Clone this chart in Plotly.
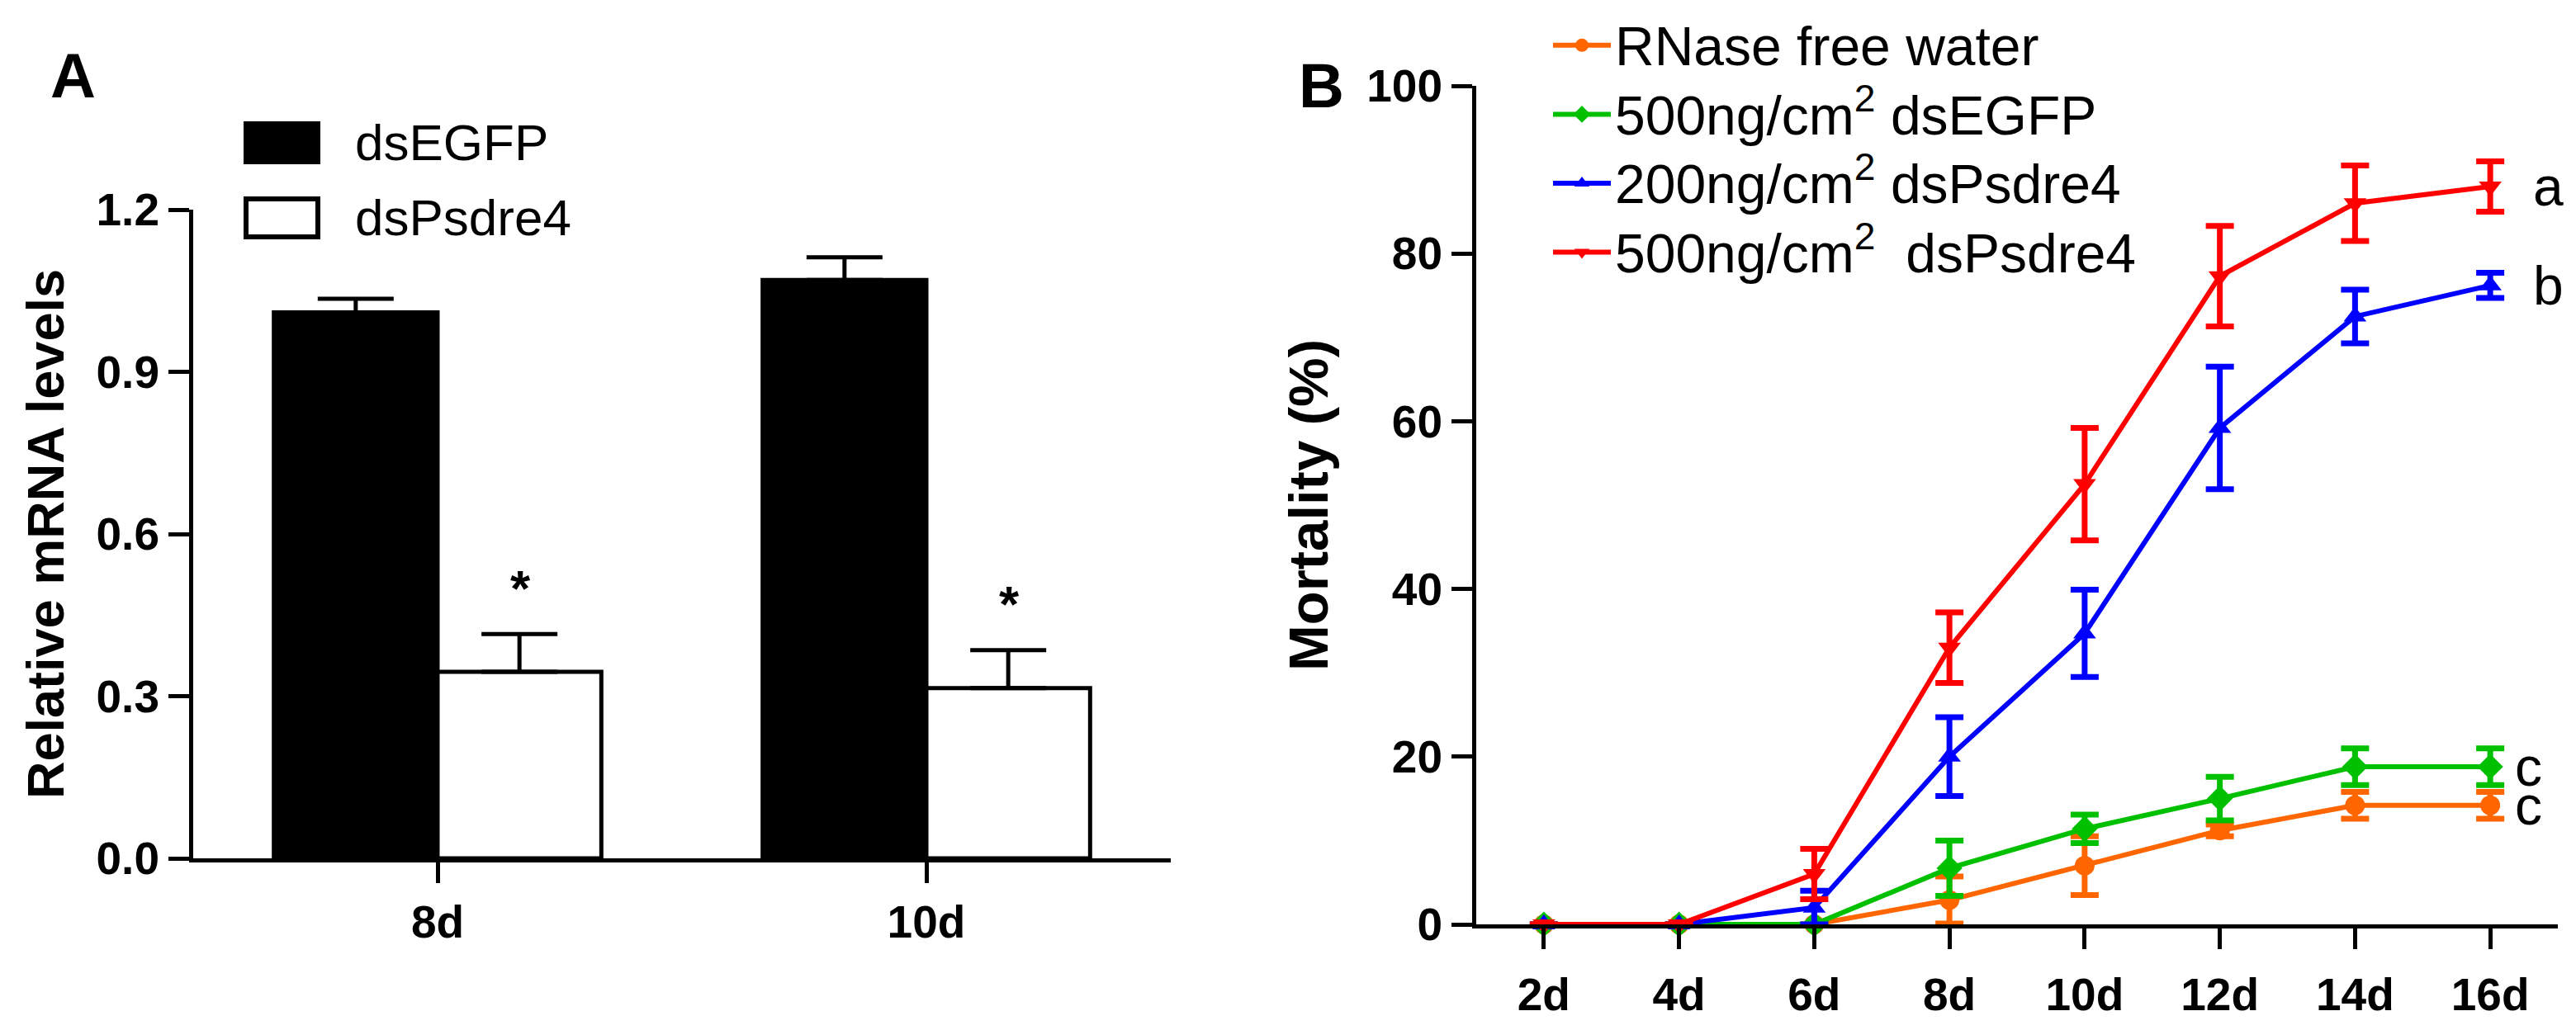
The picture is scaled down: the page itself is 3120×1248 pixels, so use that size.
import plotly.graph_objects as go

# panel A: relative mRNA levels (qPCR)
days_a = ["8d", "10d"]
egfp_mrna = [1.01, 1.07]
egfp_mrna_err = [0.025, 0.042]
psdre4_mrna = [0.345, 0.315]
psdre4_mrna_err = [0.07, 0.07]
mrna_ticks = [0.0, 0.3, 0.6, 0.9, 1.2]
signif_a = ["*", "*"]

# panel B: mortality over time
days_b = ["2d", "4d", "6d", "8d", "10d", "12d", "14d", "16d"]
water = [0, 0, 0, 2.9, 7.0, 11.2, 14.2, 14.2]
water_err = [0, 0, 0, 2.8, 3.5, 0.7, 1.6, 1.6]
egfp500 = [0, 0, 0, 6.7, 11.4, 15.0, 18.8, 18.8]
egfp500_err = [0, 0, 0, 3.3, 1.7, 2.6, 2.2, 2.2]
psdre200 = [0, 0, 2.0, 20.0, 34.7, 59.2, 72.5, 76.2]
psdre200_err = [0, 0, 2.0, 4.7, 5.2, 7.3, 3.2, 1.5]
psdre500 = [0, 0, 6.0, 33.0, 52.5, 77.3, 86.0, 88.0]
psdre500_err = [0, 0, 3.0, 4.2, 6.7, 6.0, 4.5, 3.0]
mortality_ticks = [0, 20, 40, 60, 80, 100]
letters_b = ["c", "c", "b", "a"]

W, H = 3120, 1248
FONT = "Liberation Sans"


def px(x):
    return x / W


def py(y):
    return 1 - y / H


def big(label):
    # legend rows are spaced from the legend font size; draw the text a bit larger
    return f'<span style="font-size:66px">{label}</span>'


fig = go.Figure()

# ---- panel A bars
fig.add_bar(
    x=days_a, y=egfp_mrna, name="dsEGFP", xaxis="x", yaxis="y",
    marker=dict(color="black", line=dict(color="black", width=5)),
    error_y=dict(type="data", array=egfp_mrna_err, arrayminus=[0] * len(egfp_mrna_err),
                 symmetric=False, color="black", thickness=5, width=46),
    showlegend=False,
)
fig.add_bar(
    x=days_a, y=psdre4_mrna, name="dsPsdre4", xaxis="x", yaxis="y",
    marker=dict(color="white", line=dict(color="black", width=5)),
    error_y=dict(type="data", array=psdre4_mrna_err, arrayminus=[0] * len(psdre4_mrna_err),
                 symmetric=False, color="black", thickness=5, width=46),
    showlegend=False,
)

# ---- panel B lines
series_b = [
    ("RNase free water", water, water_err, "#FF6600", "circle"),
    ("500ng/cm<sup>2</sup> dsEGFP", egfp500, egfp500_err, "#00C000", "diamond"),
    ("200ng/cm<sup>2</sup> dsPsdre4", psdre200, psdre200_err, "#0000FF", "triangle-up"),
    ("500ng/cm<sup>2</sup>  dsPsdre4", psdre500, psdre500_err, "#FF0000", "triangle-down"),
]
for name, vals, errs, color, symbol in series_b:
    fig.add_scatter(
        x=days_b, y=vals, name=big(name), xaxis="x2", yaxis="y2",
        mode="lines+markers", cliponaxis=False,
        line=dict(color=color, width=6),
        marker=dict(color=color, size=24, symbol=symbol),
        error_y=dict(type="data", array=errs, color=color, thickness=7, width=17),
    )

# ---- axes
tick_font = dict(family=FONT, size=55, color="black", weight="bold")
title_font = dict(family=FONT, size=63, color="black", weight="bold")
axis_common = dict(showline=True, linecolor="black", showgrid=False, zeroline=False,
                   ticks="outside", tickcolor="black", tickwidth=5, ticklen=25,
                   tickfont=tick_font, automargin=False)

fig.update_layout(
    template="none",
    xaxis=dict(domain=[px(226), px(1410)], anchor="y", type="category",
               range=[-0.5, 1.5], linewidth=5, ticklabelstandoff=0, **axis_common),
    yaxis=dict(domain=[py(1032), py(246)], anchor="x", range=[0, 1.2],
               tickvals=mrna_ticks, tickformat=".1f", linewidth=5,
               title=dict(text="Relative mRNA levels", font=title_font, standoff=20),
               **axis_common),
    xaxis2=dict(domain=[px(1780), px(3090)], anchor="y2", type="category",
                range=[-0.5, 7.5], linewidth=5, ticklabelstandoff=8, **axis_common),
    yaxis2=dict(domain=[py(1112), py(96)], anchor="x2", range=[0, 100],
                tickvals=mortality_ticks, linewidth=5,
                title=dict(text="Mortality (%)", font=dict(title_font, size=67), standoff=26),
                **axis_common),
    barmode="group",
    bargap=0.33,
    bargroupgap=0,
    width=W,
    height=H,
    margin=dict(l=0, r=0, t=0, b=0, pad=0),
    paper_bgcolor="white",
    plot_bgcolor="white",
    font=dict(family=FONT, color="black"),
    legend=dict(x=px(1868), y=1.0, xanchor="left", yanchor="top",
                font=dict(family=FONT, size=62, color="black"),
                itemwidth=70, tracegroupgap=0, bgcolor="rgba(0,0,0,0)"),
)

# ---- panel A manual legend (big boxes)
legend_a = [("dsEGFP", "black", 165), ("dsPsdre4", "white", 256)]
for label, fill, yc in legend_a:
    fig.add_shape(type="rect", xref="paper", yref="paper",
                  x0=px(290), x1=px(377), y0=py(yc - 23), y1=py(yc + 23),
                  fillcolor=fill, line=dict(color="black", width=6))
    fig.add_annotation(text=label, xref="paper", yref="paper", x=px(420), y=py(yc),
                       xanchor="left", yanchor="middle", showarrow=False,
                       font=dict(family=FONT, size=62, color="black"))

# significance stars above the dsPsdre4 bars
for i, (v, e, s) in enumerate(zip(psdre4_mrna, psdre4_mrna_err, signif_a)):
    fig.add_annotation(text=s, xref="x", yref="y", x=i + 0.17, y=v + e + 0.03,
                       yanchor="bottom", showarrow=False,
                       font=dict(family=FONT, size=62, color="black", weight="bold"))

# letters at the end of each mortality curve
letter_shift = [28, 28, 50, 50]
for (name, vals, errs, color, symbol), letter, dx in zip(series_b, letters_b, letter_shift):
    fig.add_annotation(text=letter, xref="x2", yref="y2", x=days_b[-1], y=vals[-1],
                       xanchor="left", yanchor="middle", xshift=dx, showarrow=False,
                       font=dict(family=FONT, size=66, color="black"))

# panel labels
fig.add_annotation(text="A", xref="paper", yref="paper", x=px(80), y=py(84),
                   xanchor="center", yanchor="middle", showarrow=False,
                   font=dict(family=FONT, size=76, color="black", weight="bold"))
fig.add_annotation(text="B", xref="paper", yref="paper", x=px(1592), y=py(96),
                   xanchor="center", yanchor="middle", showarrow=False,
                   font=dict(family=FONT, size=76, color="black", weight="bold"))

fig.write_html("out.html")
